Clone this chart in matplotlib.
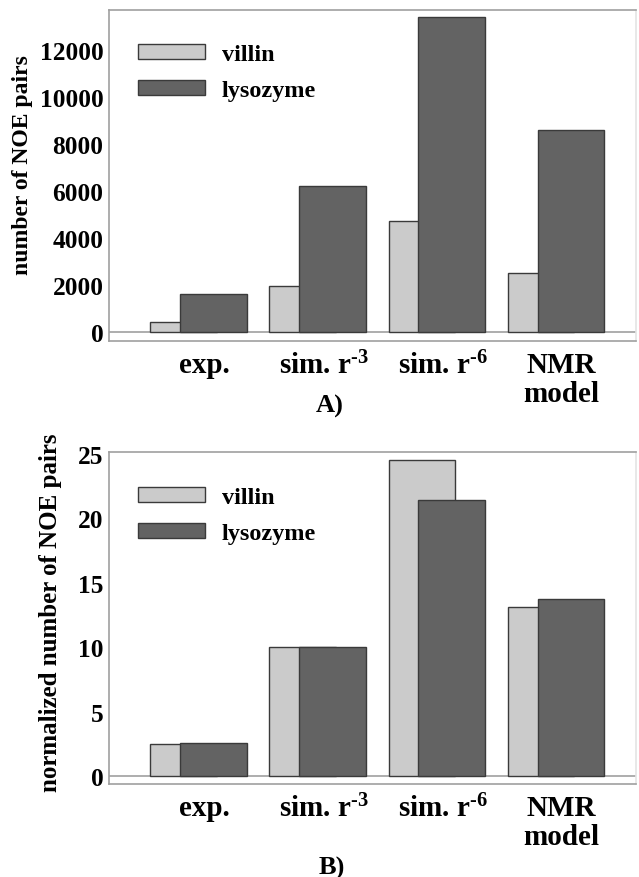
import numpy as np
import matplotlib
matplotlib.use("Agg")
from matplotlib import pyplot as plt

plt.rcParams['font.family'] = ['Liberation Serif', 'DejaVu Serif']
plt.rcParams['font.weight'] = 'bold'
plt.rcParams['axes.labelweight'] = 'bold'
plt.rcParams['mathtext.fontset'] = 'custom'
plt.rcParams['mathtext.rm'] = 'Liberation Serif:bold'
plt.rcParams['mathtext.default'] = 'rm'

categories = ['exp.', r'sim. r$^{\text{-}3}$', r'sim. r$^{\text{-}6}$', 'NMR\nmodel']
series = ['villin', 'lysozyme']

# panel A: absolute number of NOE pairs
villin_counts = [440, 1945, 4735, 2510]
lysozyme_counts = [1605, 6225, 13390, 8610]

# panel B: normalized number of NOE pairs
villin_norm = [2.48, 9.98, 24.5, 13.1]
lysozyme_norm = [2.6, 10.0, 21.4, 13.75]

LIGHT = '#cbcbcb'
DARK = '#636363'
EDGE = '#3a3a3a'
SPINE = '#a0a0a0'
W, H = 639, 878


def px_axes(fig, left, right, top, bottom):
    return fig.add_axes([left / W, 1 - bottom / H, (right - left) / W, (bottom - top) / H])


def panel(ax, villin, lyso, ylim, yticks, ylabel, label_size, label_x, label_y, leg_top):
    x = np.arange(len(categories))
    ax.bar(x - 0.126, villin, width=0.555, color=LIGHT, edgecolor=EDGE, linewidth=1.0,
           label=series[0], zorder=2)
    ax.bar(x + 0.126, lyso, width=0.555, color=DARK, edgecolor=EDGE, linewidth=1.0,
           label=series[1], zorder=3)
    ax.axhline(0, color=SPINE, linewidth=1.2, zorder=1)
    ax.set_xlim(-0.752, 3.676)
    ax.set_ylim(*ylim)
    ax.set_yticks(yticks)
    ax.set_xticks(x + 0.05)
    ax.set_xticklabels(categories, fontsize=21, linespacing=1.1)
    ax.tick_params(axis='y', length=0, pad=4, labelsize=18.3)
    ax.tick_params(axis='x', length=0, pad=7)
    for s in ax.spines.values():
        s.set_color(SPINE)
        s.set_linewidth(1.2)
    ax.spines['right'].set_color('#e4e4e4')
    ax.set_ylabel(ylabel, fontsize=label_size)
    ax.yaxis.set_label_coords(label_x, label_y)
    ax.legend(loc='upper left', bbox_to_anchor=(0.055, leg_top), frameon=False,
              fontsize=17.5, handlelength=2.75, handleheight=0.55, handletextpad=0.7,
              labelspacing=0.62, borderpad=0, borderaxespad=0)


fig = plt.figure(figsize=(W / 100, H / 100), dpi=100)

axA = px_axes(fig, 109, 636, 11, 342)
panel(axA, villin_counts, lysozyme_counts, (-385, 13700), np.arange(0, 12001, 2000),
      'number of NOE pairs', 17, -0.145, 0.535, 0.897)

axB = px_axes(fig, 109, 636, 453, 785)
panel(axB, villin_norm, lysozyme_norm, (-0.62, 25.15), np.arange(0, 26, 5),
      'normalized number of NOE pairs', 18, -0.089, 0.518, 0.894)

fig.text(330 / W, 1 - 406 / H, 'A)', ha='center', va='center', fontsize=19)
fig.text(332 / W, 1 - 868 / H, 'B)', ha='center', va='center', fontsize=19)

fig.savefig('out.png', dpi=100)
